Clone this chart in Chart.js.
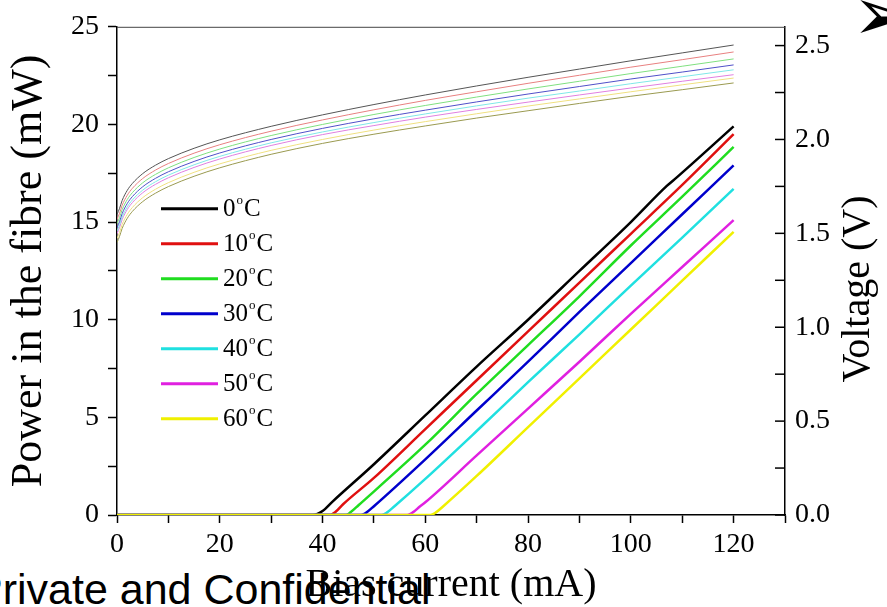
<!DOCTYPE html>
<html>
<head>
<meta charset="utf-8">
<script src="https://cdn.jsdelivr.net/npm/chart.js@4.4.1/dist/chart.umd.min.js"></script>
<style>
  html, body { margin: 0; padding: 0; background: #fff; overflow: hidden; }
  #wrap { position: relative; width: 887px; height: 607px; overflow: hidden; }
  #chart { position: absolute; left: 0; top: 0; }
  .footer { position: absolute; left: -26px; top: 565px; font: 43px "Liberation Sans", sans-serif; white-space: nowrap; color: #000; line-height: 1.15; }
  .bullet { position: absolute; left: 852px; top: -31px; font: 75px "DejaVu Sans"; line-height: 1.2; color: #000; }
</style>
</head>
<body>
<div id="wrap">
  <div class="footer">Private and Confidential</div>
  <canvas id="chart" width="887" height="607"></canvas>
  <div class="bullet">➢</div>
</div>
<script>
var temps = ['0', '10', '20', '30', '40', '50', '60'];
var colors = ['#000000', '#e01010', '#20dd20', '#0000cc', '#20e0e0', '#e020e0', '#f0f000'];
var voltColors = ['#555555', '#e88080', '#80e080', '#5050c8', '#80e8e8', '#e080e0', '#f0e080', '#9a9a50'];

// axis ticks (minor ones carry no label)
var currentTicks = [0, 10, 20, 30, 40, 50, 60, 70, 80, 90, 100, 110, 120, 130];
var powerTicks = [0, 2.5, 5, 7.5, 10, 12.5, 15, 17.5, 20, 22.5, 25];
var voltTicks = [0, 0.25, 0.5, 0.75, 1, 1.25, 1.5, 1.75, 2, 2.25, 2.5];

// fibre power, [mA, mW]
var power0 = [[0,0],[38,0],[39,0.05],[40,0.2],[42,0.7],[50,2.6],[60,5.1],[70,7.6],[80,10.0],[90,12.5],[100,15.0],[107,16.85],[109,17.3],[120,19.9]];
var power10 = [[0,0],[41.5,0],[42.5,0.15],[44,0.55],[50,1.9],[60,4.4],[70,6.9],[80,9.4],[90,11.9],[100,14.4],[110,16.9],[120,19.5]];
var power20 = [[0,0],[44.5,0],[45.5,0.15],[47,0.5],[60,3.6],[70,6.2],[80,8.7],[90,11.2],[100,13.8],[110,16.3],[120,18.85]];
var power30 = [[0,0],[47.5,0],[48.5,0.12],[50,0.45],[60,2.85],[70,5.35],[80,7.85],[90,10.4],[100,12.9],[110,15.4],[120,17.9]];
var power40 = [[0,0],[51.5,0],[52.5,0.12],[54,0.45],[60,1.85],[70,4.3],[80,6.8],[90,9.25],[100,11.75],[110,14.2],[120,16.7]];
var power50 = [[0,0],[56.5,0],[57.5,0.12],[59,0.45],[60,0.65],[70,3.05],[80,5.45],[90,7.85],[100,10.3],[110,12.7],[120,15.1]];
var power60 = [[0,0],[61,0],[62,0.12],[63.5,0.45],[70,2.0],[80,4.5],[90,7.0],[100,9.5],[110,12.0],[120,14.5]];

// forward voltage, sampled on these currents (mA)
var current = [0, 0.5, 1, 2, 3, 5, 7.5, 10, 15, 20, 30, 40, 50, 60, 70, 80, 90, 100, 110, 120];
var volt0 = [1.600, 1.633, 1.675, 1.729, 1.766, 1.818, 1.863, 1.898, 1.953, 1.998, 2.070, 2.131, 2.186, 2.237, 2.285, 2.331, 2.375, 2.419, 2.461, 2.503];
var volt10 = [1.574, 1.607, 1.649, 1.703, 1.740, 1.792, 1.837, 1.872, 1.927, 1.972, 2.044, 2.104, 2.158, 2.208, 2.254, 2.299, 2.342, 2.385, 2.425, 2.466];
var volt20 = [1.551, 1.584, 1.626, 1.680, 1.717, 1.769, 1.814, 1.849, 1.904, 1.949, 2.021, 2.080, 2.133, 2.181, 2.226, 2.269, 2.310, 2.351, 2.390, 2.429];
var volt30 = [1.530, 1.563, 1.605, 1.659, 1.696, 1.748, 1.793, 1.828, 1.883, 1.928, 2.000, 2.059, 2.110, 2.156, 2.200, 2.242, 2.282, 2.322, 2.359, 2.397];
var volt40 = [1.512, 1.545, 1.587, 1.641, 1.678, 1.730, 1.775, 1.810, 1.865, 1.910, 1.982, 2.040, 2.090, 2.136, 2.179, 2.220, 2.258, 2.297, 2.334, 2.371];
var volt50 = [1.498, 1.531, 1.573, 1.627, 1.664, 1.716, 1.761, 1.796, 1.851, 1.896, 1.968, 2.026, 2.074, 2.119, 2.160, 2.199, 2.237, 2.274, 2.310, 2.345];
var volt60 = [1.472, 1.505, 1.547, 1.601, 1.638, 1.690, 1.735, 1.770, 1.825, 1.870, 1.942, 2.000, 2.050, 2.095, 2.137, 2.178, 2.216, 2.254, 2.291, 2.327];
var volt70 = [1.451, 1.484, 1.526, 1.580, 1.617, 1.669, 1.714, 1.749, 1.804, 1.849, 1.921, 1.979, 2.028, 2.072, 2.114, 2.153, 2.192, 2.230, 2.265, 2.301];

var powerSets = [power0, power10, power20, power30, power40, power50, power60];
var voltSets = [volt0, volt10, volt20, volt30, volt40, volt50, volt60, volt70];

var serif = 'Liberation Serif';

var datasets = [];
voltSets.forEach(function(v, i) {
  datasets.push({
    label: 'V' + i,
    data: current.map(function(c, k) { return {x: c, y: v[k]}; }),
    yAxisID: 'y1',
    borderColor: voltColors[i],
    borderWidth: 1,
    pointRadius: 0,
    cubicInterpolationMode: 'monotone',
    order: 20
  });
});
powerSets.forEach(function(p, i) {
  datasets.push({
    label: temps[i] + '°C',
    data: p.map(function(pt) { return {x: pt[0], y: pt[1]}; }),
    yAxisID: 'y',
    borderColor: colors[i],
    borderWidth: 2.5,
    pointRadius: 0,
    cubicInterpolationMode: 'monotone',
    order: 6 - i
  });
});

var isMult = function(v, step) {
  var r = v / step;
  return Math.abs(r - Math.round(r)) < 1e-6;
};

var fixedTicks = function(values) {
  return function(scale) {
    scale.ticks = values.map(function(v) { return {value: v}; });
  };
};

// legend inside the plot, degree drawn as a raised small o
var inlineLegend = {
  id: 'inlineLegend',
  afterDatasetsDraw: function(chart) {
    var ctx = chart.ctx, area = chart.chartArea;
    var x0 = area.left + 44, y0 = area.top + 182;
    ctx.save();
    chart.data.datasets.filter(function(d) { return d.yAxisID === 'y'; }).forEach(function(d, i) {
      var y = y0 + i * 35;
      ctx.strokeStyle = d.borderColor;
      ctx.lineWidth = 3;
      ctx.beginPath();
      ctx.moveTo(x0, y);
      ctx.lineTo(x0 + 57, y);
      ctx.stroke();
      var num = d.label.split('°')[0];
      var tx = x0 + 62;
      ctx.fillStyle = '#000';
      ctx.textBaseline = 'middle';
      ctx.font = '25px "' + serif + '"';
      ctx.fillText(num, tx, y + 1);
      tx += ctx.measureText(num).width + 1;
      ctx.font = '13px "' + serif + '"';
      ctx.fillText('o', tx, y - 8);
      tx += ctx.measureText('o').width + 1;
      ctx.font = '25px "' + serif + '"';
      ctx.fillText('C', tx, y + 1);
    });
    ctx.restore();
  }
};

// top frame line, inward ticks on the voltage axis and its title
var frame = {
  id: 'frame',
  afterDraw: function(chart) {
    var ctx = chart.ctx, area = chart.chartArea, s = chart.scales.y1;
    ctx.save();
    ctx.strokeStyle = '#444';
    ctx.lineWidth = 1;
    ctx.beginPath();
    ctx.moveTo(area.left, area.top + 0.5);
    ctx.lineTo(area.right, area.top + 0.5);
    ctx.stroke();
    ctx.strokeStyle = '#000';
    ctx.lineWidth = 1.5;
    s.ticks.forEach(function(t) {
      var y = s.getPixelForValue(t.value);
      ctx.beginPath();
      ctx.moveTo(area.right - 10, y);
      ctx.lineTo(area.right, y);
      ctx.stroke();
    });
    ctx.translate(858, 289);
    ctx.rotate(-Math.PI / 2);
    ctx.fillStyle = '#000';
    ctx.textAlign = 'center';
    ctx.textBaseline = 'middle';
    ctx.font = '40px "' + serif + '"';
    ctx.fillText('Voltage (V)', 0, 0);
    ctx.restore();
  }
};

new Chart(document.getElementById('chart'), {
  type: 'line',
  data: { datasets: datasets },
  plugins: [inlineLegend, frame],
  options: {
    responsive: false,
    animation: false,
    devicePixelRatio: 1,
    layout: { padding: { top: 21, left: 0, right: 0, bottom: 0 } },
    plugins: { legend: { display: false }, tooltip: { enabled: false } },
    scales: {
      x: {
        type: 'linear',
        min: 0,
        max: 130,
        afterBuildTicks: fixedTicks(currentTicks),
        ticks: {
          autoSkip: false,
          maxRotation: 0,
          padding: 5,
          color: '#000',
          font: { family: serif, size: 28 },
          callback: function(v) { return isMult(v, 20) ? v : ''; }
        },
        grid: { drawOnChartArea: false, tickLength: 8, tickColor: '#000', tickWidth: 1.5 },
        border: { color: '#000', width: 1.5 },
        title: {
          display: true,
          text: 'Bias current (mA)',
          color: '#000',
          font: { family: serif, size: 40, lineHeight: 1 },
          padding: { top: 0, bottom: 2 }
        },
        afterFit: function(s) { s.height = 92; }
      },
      y: {
        position: 'left',
        min: 0,
        max: 25,
        afterBuildTicks: fixedTicks(powerTicks),
        ticks: {
          autoSkip: false,
          padding: 9,
          color: '#000',
          font: { family: serif, size: 28 },
          callback: function(v) { return isMult(v, 5) ? v : ''; }
        },
        grid: { drawOnChartArea: false, tickLength: 9, tickColor: '#000', tickWidth: 1.5 },
        border: { color: '#000', width: 1.5 },
        title: {
          display: true,
          text: 'Power in the fibre (mW)',
          color: '#000',
          font: { family: serif, size: 44, lineHeight: 1 },
          padding: { top: 7, bottom: 0 }
        },
        afterFit: function(s) { s.width = 117; }
      },
      y1: {
        position: 'right',
        min: 0,
        max: 2.6,
        afterBuildTicks: fixedTicks(voltTicks),
        ticks: {
          autoSkip: false,
          padding: 10,
          color: '#000',
          font: { family: serif, size: 28 },
          callback: function(v) { return isMult(v, 0.5) ? v.toFixed(1) : ''; }
        },
        grid: { drawOnChartArea: false, drawTicks: false },
        border: { color: '#000', width: 1.5 },
        afterFit: function(s) { s.width = 102; }
      }
    }
  }
});
</script>
</body>
</html>
